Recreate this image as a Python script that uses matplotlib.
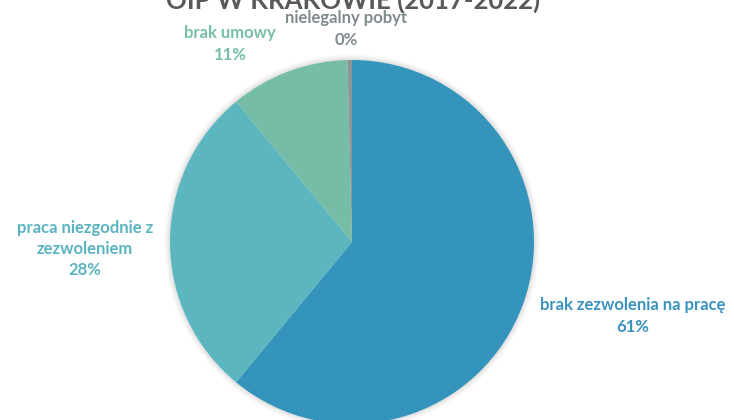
import matplotlib
matplotlib.use("Agg")
import matplotlib.pyplot as plt

categories = ["brak zezwolenia na pracę", "praca niezgodnie z\nzezwoleniem", "brak umowy", "nielegalny pobyt"]
values = [61.0, 28.0, 10.6, 0.4]
colors = ["#3594BC", "#5BB6C0", "#75BDA6", "#8C9598"]
label_colors = ["#3A93BE", "#5AB4C0", "#76BEA4", "#7F8B8E"]
title = "OIP W KRAKOWIE (2017-2022)"

W, H = 734, 420
fig = plt.figure(figsize=(W / 100, H / 100), dpi=100)
fig.patch.set_facecolor("white")

cx, cy, r = 352, 242, 182
ax = fig.add_axes([(cx - r) / W, (H - cy - r) / H, 2 * r / W, 2 * r / H])
ax.axis("off")

# soft shadow
for i, a in enumerate([0.035, 0.03, 0.025, 0.02]):
    c = plt.Circle((0, 0), 1 + 0.008 * (i + 1), color="#000000", alpha=a, lw=0, clip_on=False)
    ax.add_patch(c)

wedges, _ = ax.pie(values, colors=colors, startangle=90, counterclock=False, radius=1,
                   wedgeprops=dict(linewidth=0))
for w in wedges:
    w.set_clip_on(False)
ax.set_xlim(-1, 1)
ax.set_ylim(-1, 1)
ax.set_aspect("equal")

font = "Lato"
# labels (pixel positions)
label_pos = [(633, 316), (85, 249), (230, 44), (346, 29)]
for cat, v, (px, py), col in zip(categories, values, label_pos, label_colors):
    fig.text(px / W, 1 - py / H, f"{cat}\n{round(v):.0f}%", ha="center", va="center",
             color=col, fontsize=12, fontweight="bold", family=font, linespacing=1.4)

fig.text(353 / W, 1 - 0 / H, title, ha="center", va="center", color="#595959",
         fontsize=18.5, fontweight="bold", family=font)

fig.savefig("out.png", dpi=100)
